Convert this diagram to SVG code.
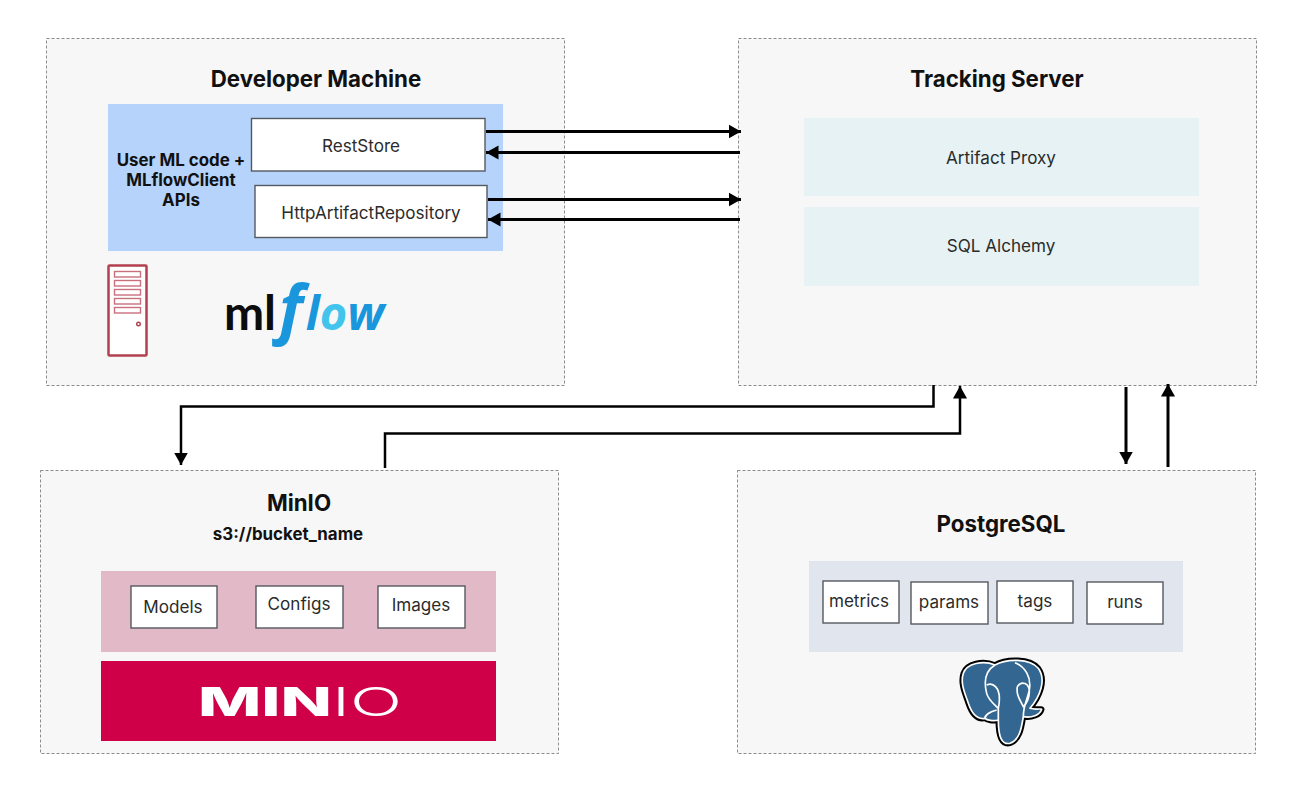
<svg xmlns="http://www.w3.org/2000/svg" width="1316" height="810" viewBox="0 0 1316 810">
<style>
text{font-family:Inter,"Noto Sans","Liberation Sans",sans-serif;text-anchor:middle;fill:#111}
.panel{fill:#f7f7f7;stroke:#8c8c8c;stroke-width:1;stroke-dasharray:3 2}
.box{fill:#fff;stroke:#55595e;stroke-width:1.4}
.title{font-size:22.300px;font-weight:700}
.lab{font-size:17.100px;fill:#2b2b2b}
.sub{font-size:16.900px;font-weight:700}
.proxy{fill:#e6f2f3}
.conn{fill:none;stroke:#000;stroke-width:3}
.slot{fill:none;stroke:#c9707c;stroke-width:1.4}
</style>
<defs>
<marker id="arrow" markerUnits="userSpaceOnUse" markerWidth="15" markerHeight="15" refX="12.500" refY="7.500" orient="auto"><path d="M0,0.500L12.500,7.500L0,14.500Z" fill="#000"/></marker>
</defs>
<rect width="1316" height="810" fill="#fff"/>
<g id="developer-machine">
<rect class="panel" x="46.500" y="38.500" width="518" height="347"/>
<text class="title" x="316" y="87">Developer Machine</text>
<rect x="108" y="104" width="395" height="147" fill="#b5d3fb"/>
<text class="sub" x="181" y="166">User ML code +</text>
<text class="sub" x="181" y="186">MLflowClient</text>
<text class="sub" x="181" y="206">APIs</text>
</g>
<g id="reststore"><rect class="box" x="251.500" y="118.500" width="233.500" height="52.500"/><text class="lab" x="361" y="152">RestStore</text></g>
<g id="http-artifact-repository"><rect class="box" x="255" y="185.500" width="232" height="52"/><text class="lab" x="371" y="219">HttpArtifactRepository</text></g>
<g id="server-icon">
<rect x="108.500" y="265.500" width="38" height="90" rx="1" fill="#fff" stroke="#b2404f" stroke-width="2.500"/>
<rect class="slot" x="114.500" y="271.500" width="26" height="5.500"/><rect class="slot" x="114.500" y="280.500" width="26" height="5.500"/><rect class="slot" x="114.500" y="289.500" width="26" height="5.500"/><rect class="slot" x="114.500" y="298.500" width="26" height="5.500"/><rect class="slot" x="114.500" y="307.500" width="26" height="5.500"/>
<circle cx="138.500" cy="324" r="1.800" fill="none" stroke="#b2404f" stroke-width="1.400"/>
</g>
<g id="mlflow-logo">
<text x="250" y="330" style="font-family:Lato,sans-serif;font-size:48px;font-weight:700;fill:#0c0c0c">ml</text>
<text x="291" y="331" style="font-family:'Open Sans',sans-serif;font-size:64px;font-weight:700;font-style:italic;fill:#1a96dc">f</text>
<text x="345" y="330" style="font-family:'Open Sans',sans-serif;font-size:47px;font-weight:700;font-style:italic;fill:#1a96dc"><tspan>l</tspan><tspan fill="#43c4ec">o</tspan><tspan>w</tspan></text>
</g>
<g id="tracking-server">
<rect class="panel" x="738.500" y="38.500" width="518" height="347"/>
<text class="title" x="997" y="87">Tracking Server</text>
</g>
<g id="artifact-proxy"><rect class="proxy" x="804" y="118" width="395" height="78"/><text class="lab" x="1001" y="164">Artifact Proxy</text></g>
<g id="sql-alchemy"><rect class="proxy" x="804" y="207" width="395" height="79"/><text class="lab" x="1001" y="252">SQL Alchemy</text></g>
<g id="minio">
<rect class="panel" x="40.500" y="470.500" width="518" height="283"/>
<text class="title" x="299" y="511">MinIO</text>
<text class="sub" x="288" y="540">s3://bucket_name</text>
<rect x="101" y="571" width="395" height="81" fill="#e2b9c6"/>
</g>
<g id="models"><rect class="box" x="131" y="586" width="86" height="42"/><text class="lab" x="173" y="613">Models</text></g>
<g id="configs"><rect class="box" x="256" y="586" width="87" height="42"/><text class="lab" x="299" y="610">Configs</text></g>
<g id="images"><rect class="box" x="378" y="586" width="87" height="42"/><text class="lab" x="421" y="611">Images</text></g>
<g id="minio-logo">
<rect x="101" y="661" width="395" height="80" fill="#cf0048"/>
<text x="265" y="715.500" textLength="134" lengthAdjust="spacingAndGlyphs" style="font-family:Inter,sans-serif;font-size:39px;font-weight:800;fill:#fff">MIN</text>
<text x="367" y="715.500" textLength="70" lengthAdjust="spacingAndGlyphs" style="font-family:Inter,sans-serif;font-size:39px;font-weight:300;fill:#fff">IO</text>
</g>
<g id="postgresql">
<rect class="panel" x="737.500" y="470.500" width="518" height="283"/>
<text class="title" x="1001" y="532">PostgreSQL</text>
<rect x="809" y="561" width="374" height="91" fill="#e1e6ee"/>
</g>
<g id="metrics"><rect class="box" x="823" y="581" width="76" height="42"/><text class="lab" x="859" y="607">metrics</text></g>
<g id="params"><rect class="box" x="911" y="582" width="77" height="42"/><text class="lab" x="949" y="608">params</text></g>
<g id="tags"><rect class="box" x="997" y="581" width="76" height="42"/><text class="lab" x="1035" y="607">tags</text></g>
<g id="runs"><rect class="box" x="1087" y="582" width="76" height="42"/><text class="lab" x="1125" y="608">runs</text></g>
<g id="postgres-logo" transform="translate(940 650) scale(.3333)">
<path d="M70,70C80,40 130,30 165,45C200,25 270,25 295,55C320,90 300,140 270,175C285,180 305,175 305,178C300,195 275,205 250,200C245,230 240,270 210,280C185,285 175,260 175,210C160,215 140,210 135,205C110,210 95,190 85,160C75,130 60,100 70,70Z" fill="#336791" stroke="#000" stroke-width="17" stroke-linejoin="round"/>
<path d="M70,70C80,40 130,30 165,45C200,25 270,25 295,55C320,90 300,140 270,175C285,180 305,175 305,178C300,195 275,205 250,200C245,230 240,270 210,280C185,285 175,260 175,210C160,215 140,210 135,205C110,210 95,190 85,160C75,130 60,100 70,70Z" fill="#336791" stroke="#fff" stroke-width="5" stroke-linejoin="round"/>
<path d="M165,45C140,60 130,90 140,130C145,150 165,165 175,175L175,210M225,38C255,50 275,80 268,120C262,150 250,165 250,200M140,105C160,95 180,115 178,150C178,165 175,170 175,175M232,110C245,90 268,100 268,125C268,150 255,165 250,170C240,150 228,135 232,110M170,180C150,185 135,195 135,205" fill="none" stroke="#fff" stroke-width="5"/>
</g>
<g id="connectors">
<path class="conn" d="M486,131.500H741" marker-end="url(#arrow)"/>
<path class="conn" d="M740,152.500H486" marker-end="url(#arrow)"/>
<path class="conn" d="M488,199.500H741" marker-end="url(#arrow)"/>
<path class="conn" d="M740,219.500H488" marker-end="url(#arrow)"/>
<path class="conn" d="M933.500,385V406.500H181V465" marker-end="url(#arrow)" style="stroke-width:2.500"/>
<path class="conn" d="M385,468V433.500H960V386" marker-end="url(#arrow)" style="stroke-width:2.500"/>
<path class="conn" d="M1126,387V464" marker-end="url(#arrow)"/>
<path class="conn" d="M1168,467V384" marker-end="url(#arrow)"/>
</g>
</svg>
